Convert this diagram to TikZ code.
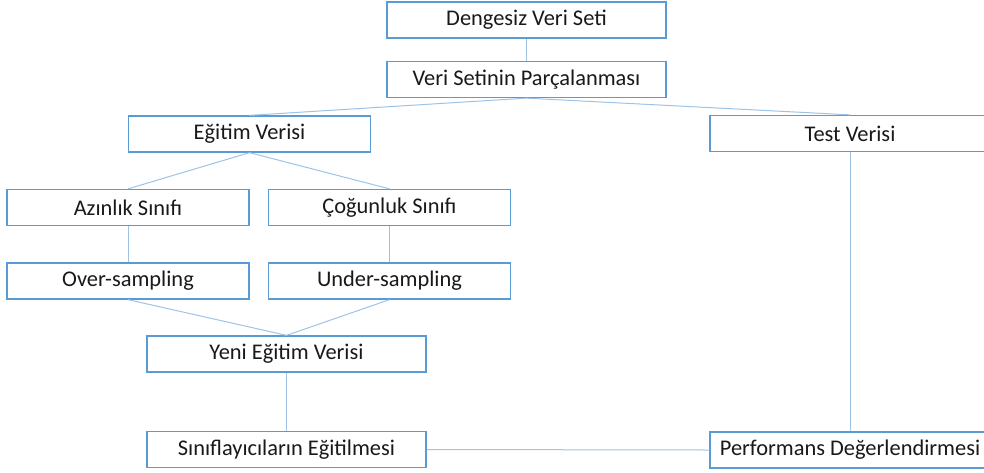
\documentclass[tikz,border=0pt]{standalone}
\usepackage{fontspec}
\setmainfont{Carlito}
\usepackage{xcolor}
\definecolor{boxblue}{HTML}{5B9BD5}
\definecolor{lineblue}{HTML}{9DC3E6}

\begin{document}
\begin{tikzpicture}[
  x=1pt, y=-1pt,
  every node/.style={font=\fontsize{22.4}{26}\selectfont, text=black!90},
  stepbox/.style={draw=boxblue, line width=1.3pt, fill=white,
                  minimum height=36pt, inner sep=0pt},
  narrow/.style={stepbox, minimum width=242pt},
  wide/.style={stepbox, minimum width=279pt},
  link/.style={draw=lineblue, line width=1pt}
]
\useasboundingbox (0,0) rectangle (984,472);

% top
\node[wide] (dvs) at (526.5, 20) {Dengesiz Veri Seti};
\node[wide] (vsp) at (526.5, 79.5) {Veri Setinin Parçalanması};
% split
\node[narrow] (egt) at (249.5, 134) {Eğitim Verisi};
\node[stepbox, minimum width=280pt] (tst) at (850, 133.5) {Test Verisi};
% classes
\node[narrow] (azn) at (128, 207.5) {Azınlık Sınıfı};
\node[narrow] (cog) at (389.5, 207.5) {Çoğunluk Sınıfı};
% sampling
\node[narrow] (ovr) at (128, 281) {Over-sampling};
\node[narrow] (und) at (389.5, 281) {Under-sampling};
% training
\node[wide] (yeni) at (286.5, 354) {Yeni Eğitim Verisi};
\node[wide] (sinif) at (286.5, 449.5) {Sınıflayıcıların Eğitilmesi};
\node[stepbox, minimum width=280pt] (perf) at (850, 450) {Performans Değerlendirmesi};

% connectors
\draw[link] (dvs.south) -- (vsp.north);
\draw[link] (vsp.south) -- (egt.north);
\draw[link] (vsp.south) -- (tst.north);
\draw[link] (egt.south) -- (azn.north);
\draw[link] (egt.south) -- (cog.north);
\draw[link] (azn.south) -- (ovr.north);
\draw[link] (cog.south) -- (und.north);
\draw[link] (ovr.south) -- (yeni.north);
\draw[link] (und.south) -- (yeni.north);
\draw[link] (yeni.south) -- (sinif.north);
\draw[link] (sinif.east) -- (perf.west);
\draw[link] (tst.south) -- (perf.north);
\end{tikzpicture}
\end{document}
